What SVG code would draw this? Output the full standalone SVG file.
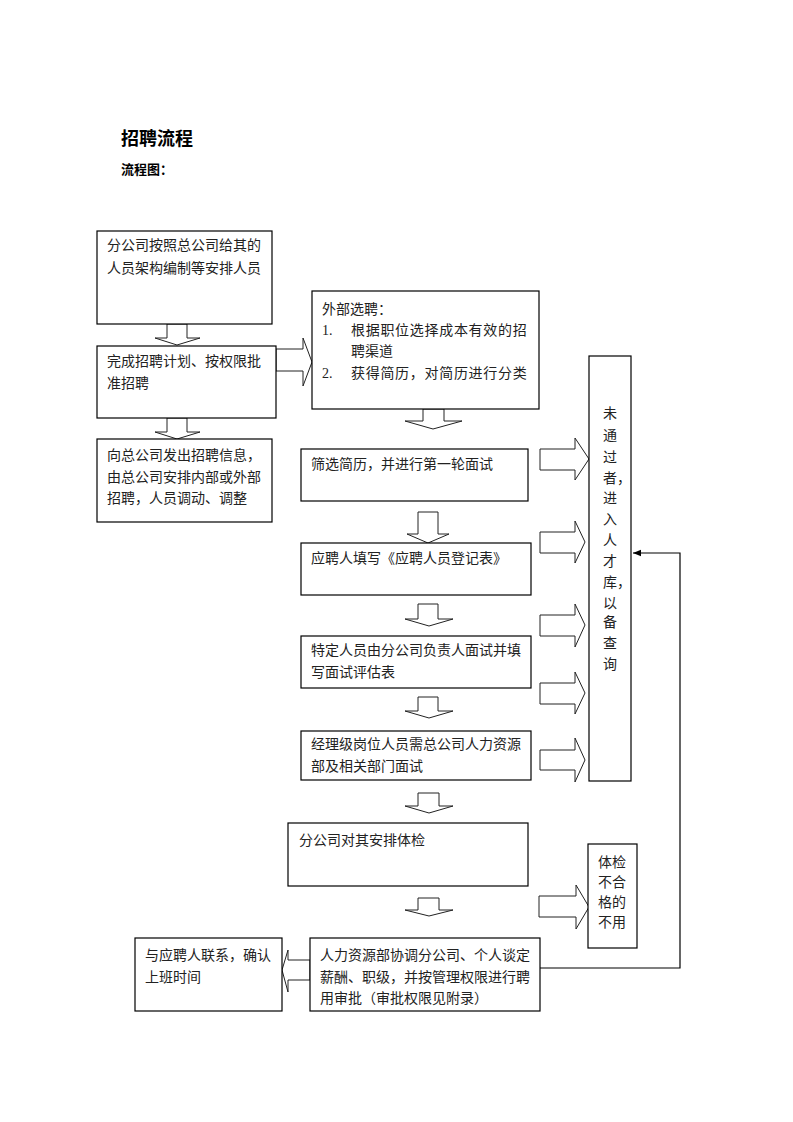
<svg xmlns="http://www.w3.org/2000/svg" width="793" height="1122" viewBox="0 0 793 1122">
<defs>
<style>
.box{fill:#fff;stroke:#000;stroke-width:1.2}
.arr{fill:#fff;stroke:#222;stroke-width:1}
.t{font-family:"Liberation Serif","Noto Sans CJK SC",serif;font-size:14px;fill:#222}
.h{font-family:"Liberation Sans","Noto Sans CJK SC",sans-serif;font-weight:bold;fill:#000}
.ln{fill:none;stroke:#000;stroke-width:1.2}
</style>
<marker id="ah" viewBox="0 0 10 10" refX="10" refY="5" markerWidth="7" markerHeight="7" orient="auto"><path d="M0,1 L10,5 L0,9 Z" fill="#000"/></marker>
</defs>
<rect width="793" height="1122" fill="#fff"/>
<text class="h" x="121" y="145" font-size="18">招聘流程</text>
<text class="h" x="121" y="174" font-size="13">流程图：</text>

<g id="connectors">
<path class="arr" d="M167,324 L187,324 L187,338 L200,338 L177,345 L155,338 L167,338 Z"/>
<path class="arr" d="M167,418 L187,418 L187,432 L200,432 L177,439 L155,432 L167,432 Z"/>
<path class="arr" d="M276,349 L303,349 L303,338 L312,362 L303,386 L303,371 L276,371 Z"/>
<path class="arr" d="M423,409 L444,409 L444,421 L462,421 L433,429 L405,421 L423,421 Z"/>
<path class="arr" d="M418,512 L438,512 L438,534 L449,534 L428,543 L407,534 L418,534 Z"/>
<path class="arr" d="M418,604 L438,604 L438,619 L453,619 L429,626 L405,619 L418,619 Z"/>
<path class="arr" d="M418,697 L438,697 L438,711 L453,711 L429,718 L405,711 L418,711 Z"/>
<path class="arr" d="M418,793 L439,793 L439,806 L453,806 L429,813 L405,806 L418,806 Z"/>
<path class="arr" d="M418,898 L439,898 L439,910 L453,910 L429,916 L405,910 L418,910 Z"/>
<path class="arr" d="M540,449 L575,449 L575,438 L589,459 L575,480 L575,470 L540,470 Z"/>
<path class="arr" d="M540,532 L575,532 L575,521 L585,542 L575,563 L575,553 L540,553 Z"/>
<path class="arr" d="M540,615 L575,615 L575,604 L585,625 L575,647 L575,636 L540,636 Z"/>
<path class="arr" d="M540,683 L575,683 L575,672 L585,693 L575,714 L575,704 L540,704 Z"/>
<path class="arr" d="M540,750 L575,750 L575,738 L585,760 L575,782 L575,770 L540,770 Z"/>
<path class="arr" d="M539,896 L576,896 L576,885 L589,907 L576,929 L576,917 L539,917 Z"/>
<path class="arr" d="M310,960 L288,960 L288,950 L282,970 L288,992 L288,980 L310,980 Z"/>
<path class="ln" d="M540,968 L680,968 L680,553 L633,553" marker-end="url(#ah)"/>
</g>

<g id="n1"><rect class="box" x="97" y="231" width="175" height="93"/>
<text class="t" x="107" y="250">分公司按照总公司给其的</text>
<text class="t" x="107" y="273">人员架构编制等安排人员</text></g>

<g id="n2"><rect class="box" x="97" y="346" width="179" height="72"/>
<text class="t" x="107" y="366">完成招聘计划、按权限批</text>
<text class="t" x="107" y="388">准招聘</text></g>

<g id="n3"><rect class="box" x="97" y="439" width="175" height="83"/>
<text class="t" x="107" y="460">向总公司发出招聘信息，</text>
<text class="t" x="107" y="482">由总公司安排内部或外部</text>
<text class="t" x="107" y="503">招聘，人员调动、调整</text></g>

<g id="n4"><rect class="box" x="312" y="291" width="227" height="118"/>
<text class="t" x="322" y="314">外部选聘：</text>
<text class="t" x="322" y="335">1.</text>
<text class="t" x="351" y="335" letter-spacing="0.7">根据职位选择成本有效的招</text>
<text class="t" x="351" y="356">聘渠道</text>
<text class="t" x="322" y="378">2.</text>
<text class="t" x="351" y="378" letter-spacing="0.7">获得简历，对简历进行分类</text></g>

<g id="n5"><rect class="box" x="301" y="449" width="227" height="52"/>
<text class="t" x="311" y="469">筛选简历，并进行第一轮面试</text></g>

<g id="n6"><rect class="box" x="301" y="543" width="230" height="52"/>
<text class="t" x="311" y="563">应聘人填写《应聘人员登记表》</text></g>

<g id="n7"><rect class="box" x="301" y="636" width="230" height="52"/>
<text class="t" x="311" y="655">特定人员由分公司负责人面试并填</text>
<text class="t" x="311" y="677">写面试评估表</text></g>

<g id="n8"><rect class="box" x="301" y="731" width="230" height="49"/>
<text class="t" x="311" y="749">经理级岗位人员需总公司人力资源</text>
<text class="t" x="311" y="771">部及相关部门面试</text></g>

<g id="n9"><rect class="box" x="288" y="823" width="240" height="63"/>
<text class="t" x="299" y="845">分公司对其安排体检</text></g>

<g id="n10"><rect class="box" x="310" y="938" width="230" height="73"/>
<text class="t" x="320" y="960">人力资源部协调分公司、个人谈定</text>
<text class="t" x="320" y="982">薪酬、职级，并按管理权限进行聘</text>
<text class="t" x="320" y="1003">用审批（审批权限见附录）</text></g>

<g id="n11"><rect class="box" x="135" y="938" width="147" height="73"/>
<text class="t" x="145" y="960">与应聘人联系，确认</text>
<text class="t" x="145" y="982">上班时间</text></g>

<g id="n12"><rect class="box" x="589" y="356" width="42" height="425"/>
<text class="t" x="603" y="418">未</text>
<text class="t" x="603" y="440">通</text>
<text class="t" x="603" y="462">过</text>
<text class="t" x="603" y="483">者，</text>
<text class="t" x="603" y="503">进</text>
<text class="t" x="603" y="524">入</text>
<text class="t" x="603" y="545">人</text>
<text class="t" x="603" y="566">才</text>
<text class="t" x="603" y="587">库，</text>
<text class="t" x="603" y="608">以</text>
<text class="t" x="603" y="627">备</text>
<text class="t" x="603" y="648">查</text>
<text class="t" x="603" y="669">询</text></g>

<g id="n13"><rect class="box" x="588" y="844" width="49" height="104"/>
<text class="t" x="598" y="867">体检</text>
<text class="t" x="598" y="887">不合</text>
<text class="t" x="598" y="907">格的</text>
<text class="t" x="598" y="927">不用</text></g>
</svg>
